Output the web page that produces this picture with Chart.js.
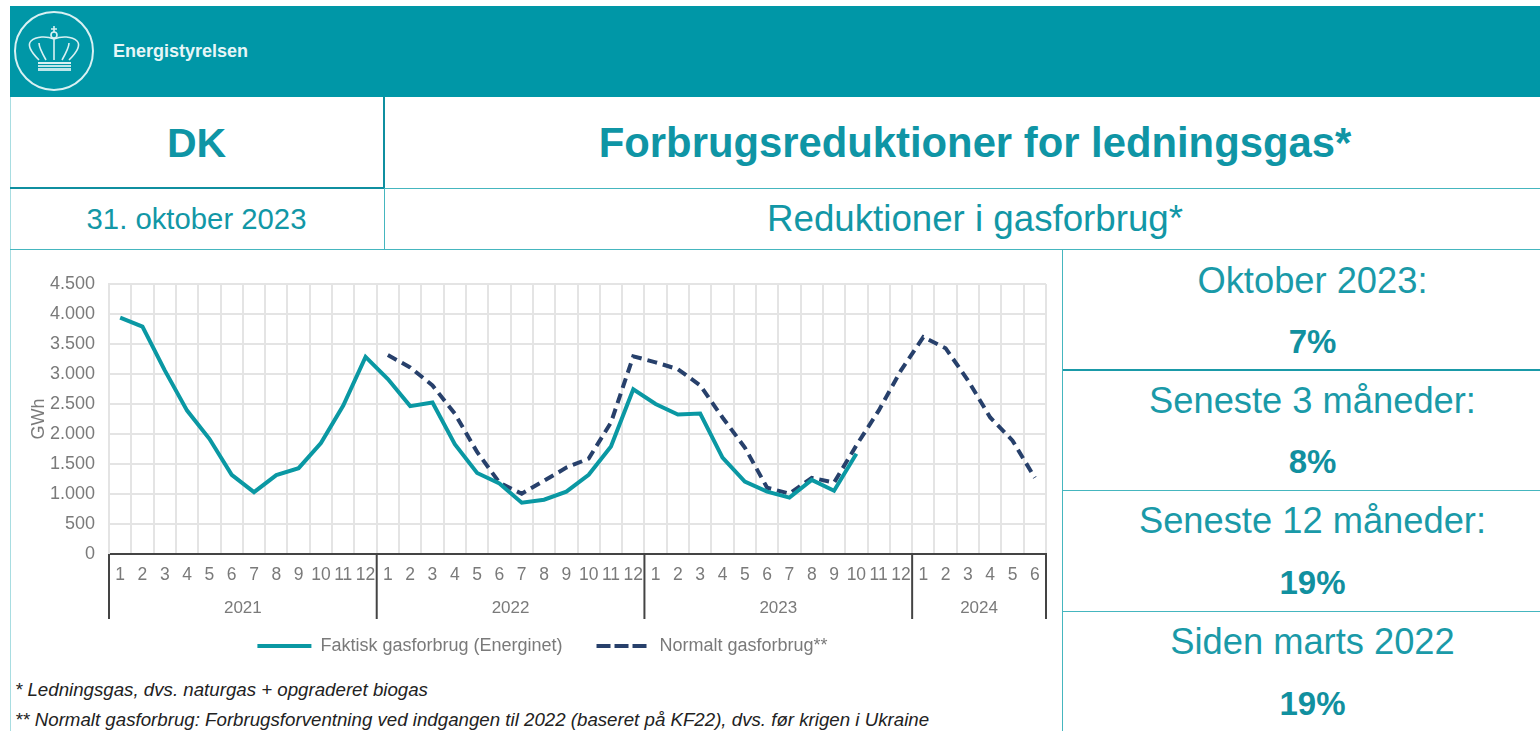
<!DOCTYPE html>
<html lang="da">
<head>
<meta charset="utf-8">
<title>Forbrugsreduktioner for ledningsgas</title>
<script src="https://cdn.jsdelivr.net/npm/chart.js@4"></script>
<style>
    html, body { margin: 0; padding: 0; background: #fff; overflow: hidden; }
    body { width: 1540px; height: 731px; position: relative; font-family: "Liberation Sans", Arial, sans-serif; color: #1297a6; }
    .abs { position: absolute; }
    .center { display: flex; align-items: center; justify-content: center; white-space: nowrap; }
    .band { left: 10px; top: 6px; width: 1530px; height: 91px; background: #0097a7; }
    .line { position: absolute; background: #45b6bf; }
    .stat { left: 1085px; width: 455px; height: 40px; font-size: 36.3px; color: #1a9aa8; }
    .pct { font-size: 33px; font-weight: bold; color: #11909f; }
    .note { left: 15px; font-size: 18.7px; font-style: italic; color: #222; white-space: nowrap; }
    #chartBox { position: absolute; left: 11px; top: 250px; width: 1051px; height: 425px; }
</style>
</head>
<body>

<div class="abs band"></div>
<svg class="abs" style="left:10px;top:6px" width="100" height="91" viewBox="0 0 100 91" fill="none" stroke="#d9f1f3" stroke-width="1.6">
    <circle cx="44" cy="45" r="39" stroke-width="2"/>
    <path d="M44 20v6M41 23h6"/>
    <circle cx="44" cy="29" r="3"/>
    <path d="M44 32v22M29 54C21 46 17 39 21 35C26 30 37 30 44 33C51 30 62 30 67 35C71 39 67 46 59 54"/>
    <path d="M36 54C32 47 29 41 29 37M52 54C56 47 59 41 59 37"/>
    <rect x="28" y="56" width="33" height="2" fill="#d9f1f3" stroke="none"/>
    <rect x="28" y="59" width="33" height="2" fill="#bfe6ea" stroke="none"/>
    <rect x="28" y="62" width="33" height="3" fill="#bfe6ea" stroke="none"/>
</svg>
<div class="abs" style="left:113px;top:41px;font-size:18px;font-weight:bold;color:#e6f6f7">Energistyrelsen</div>

<div class="abs center" style="left:10px;top:98px;width:373px;height:90px;font-size:41px;font-weight:bold;color:#0f95a5">DK</div>
<div class="abs center" style="left:410px;top:98px;width:1130px;height:90px;font-size:41.8px;font-weight:bold;color:#0f95a5">Forbrugsreduktioner for ledningsgas*</div>
<div class="abs center" style="left:10px;top:189px;width:373px;height:60px;font-size:29.3px">31. oktober 2023</div>
<div class="abs center" style="left:410px;top:189px;width:1130px;height:60px;font-size:36.7px">Reduktioner i gasforbrug*</div>

<div class="line" style="left:10px;top:97px;width:1px;height:634px;background:#a8dde1"></div>
<div class="line" style="left:383px;top:97px;width:2px;height:91px;background:#0f8fa0"></div>
<div class="line" style="left:384px;top:188px;width:1px;height:61px"></div>
<div class="line" style="left:10px;top:187px;width:374px;height:2px;background:#0f8fa0"></div>
<div class="line" style="left:384px;top:188px;width:1156px;height:1px"></div>
<div class="line" style="left:10px;top:249px;width:1530px;height:1px"></div>
<div class="line" style="left:1062px;top:249px;width:1px;height:482px"></div>
<div class="line" style="left:1063px;top:369px;width:477px;height:2px;background:#1a9aa8"></div>
<div class="line" style="left:1063px;top:490px;width:477px;height:1px"></div>
<div class="line" style="left:1063px;top:611px;width:477px;height:1px"></div>

<div class="abs center stat" style="top:261px">Oktober 2023:</div>
<div class="abs center stat pct" style="top:322px">7%</div>
<div class="abs center stat" style="top:381px">Seneste 3 måneder:</div>
<div class="abs center stat pct" style="top:442px">8%</div>
<div class="abs center stat" style="top:501px">Seneste 12 måneder:</div>
<div class="abs center stat pct" style="top:563px">19%</div>
<div class="abs center stat" style="top:622px">Siden marts 2022</div>
<div class="abs center stat pct" style="top:684px">19%</div>

<div class="abs note" style="top:679px">* Ledningsgas, dvs. naturgas + opgraderet biogas</div>
<div class="abs note" style="top:709px">** Normalt gasforbrug: Forbrugsforventning ved indgangen til 2022 (baseret på KF22), dvs. før krigen i Ukraine</div>

<div id="chartBox"><canvas id="gasChart"></canvas></div>

<script>
// Months on the axis, Jan 2021 - Jun 2024
const months = [
    1, 2, 3, 4, 5, 6, 7, 8, 9, 10, 11, 12,
    1, 2, 3, 4, 5, 6, 7, 8, 9, 10, 11, 12,
    1, 2, 3, 4, 5, 6, 7, 8, 9, 10, 11, 12,
    1, 2, 3, 4, 5, 6
];
const years = ['2021', '2022', '2023', '2024'];
const monthsPerYear = [12, 12, 12, 6];

const actual = [
    3940, 3790, 3060, 2390, 1920, 1320, 1030, 1315, 1430, 1850, 2475, 3285,
    2915, 2465, 2525, 1830, 1350, 1175, 855, 905, 1040, 1320, 1790, 2745,
    2500, 2325, 2340, 1605, 1205, 1040, 940, 1235, 1055, 1670,
    null, null, null, null, null, null, null, null
];
const normal = [
    null, null, null, null, null, null, null, null, null, null, null, null,
    3315, 3110, 2810, 2340, 1700, 1190, 1005, 1220, 1440, 1590, 2190, 3295,
    3195, 3080, 2810, 2275, 1775, 1105, 1005, 1270, 1190, 1810, 2390, 3060,
    3615, 3430, 2895, 2275, 1890, 1270
];

const yTicks = [0, 500, 1000, 1500, 2000, 2500, 3000, 3500, 4000, 4500];

const grey = '#7a7a7a';
const fontFamily = '"Liberation Sans", Arial, sans-serif';

// Year row under the month labels, with the dividers between years
const yearAxis = {
    id: 'yearAxis',
    afterLayout(chart) {
        chart.legend.left += 14;
        chart.legend.right += 14;
    },
    afterDraw(chart) {
        const { ctx, scales: { x } } = chart;
        const step = x.getPixelForValue(1) - x.getPixelForValue(0);
        const bottom = x.top + 65;
        let start = 0;
        ctx.save();
        ctx.strokeStyle = '#444';
        ctx.lineWidth = 2;
        ctx.fillStyle = grey;
        ctx.font = '17px ' + fontFamily;
        ctx.textAlign = 'center';
        ctx.textBaseline = 'middle';
        const divider = px => {
            ctx.beginPath();
            ctx.moveTo(px, x.top);
            ctx.lineTo(px, bottom);
            ctx.stroke();
        };
        divider(x.getPixelForValue(0) - step / 2);
        years.forEach((year, i) => {
            const end = start + monthsPerYear[i];
            const left = x.getPixelForValue(start) - step / 2;
            const right = x.getPixelForValue(end - 1) + step / 2;
            divider(right);
            ctx.fillText(year, (left + right) / 2, x.top + 54);
            start = end;
        });
        ctx.restore();
    }
};

new Chart(document.getElementById('gasChart'), {
    type: 'line',
    data: {
        labels: months,
        datasets: [
            {
                label: 'Faktisk gasforbrug (Energinet)',
                data: actual,
                borderColor: '#0a98a3',
                backgroundColor: '#0a98a3',
                borderWidth: 4,
                pointRadius: 0,
                tension: 0
            },
            {
                label: 'Normalt gasforbrug**',
                data: normal,
                borderColor: '#27406b',
                backgroundColor: '#27406b',
                borderWidth: 4,
                borderDash: [10, 6],
                pointRadius: 0,
                tension: 0
            }
        ]
    },
    options: {
        responsive: true,
        maintainAspectRatio: false,
        animation: false,
        layout: { padding: { top: 34, right: 16, bottom: 10 } },
        plugins: {
            tooltip: { enabled: false },
            legend: {
                position: 'bottom',
                labels: {
                    usePointStyle: true,
                    pointStyle: 'line',
                    pointStyleWidth: 54,
                    padding: 34,
                    color: grey,
                    font: { family: fontFamily, size: 18 },
                    generateLabels(chart) {
                        const items = Chart.defaults.plugins.legend.labels.generateLabels(chart);
                        items.forEach((item, i) => {
                            item.lineWidth = 4;
                            item.lineDash = chart.data.datasets[i].borderDash ? [14, 4] : [];
                        });
                        return items;
                    }
                }
            }
        },
        scales: {
            x: {
                offset: true,
                afterFit(axis) { axis.height = 49; },
                grid: { offset: true, color: '#e4e4e4', lineWidth: 2, drawTicks: false },
                border: { color: '#444', width: 2 },
                ticks: {
                    autoSkip: false,
                    maxRotation: 0,
                    padding: 11,
                    color: grey,
                    font: { family: fontFamily, size: 17.5 }
                }
            },
            y: {
                min: 0,
                max: 4500,
                afterFit(axis) { axis.width = 98; },
                afterBuildTicks(axis) { axis.ticks = yTicks.map(value => ({ value })); },
                grid: { color: '#e4e4e4', lineWidth: 2, drawTicks: false },
                border: { color: '#e4e4e4', width: 2 },
                title: {
                    display: true,
                    text: 'GWh',
                    color: grey,
                    padding: { top: 17, bottom: 0 },
                    font: { family: fontFamily, size: 18 }
                },
                ticks: {
                    padding: 14,
                    color: grey,
                    font: { family: fontFamily, size: 18 },
                    callback: value => value.toLocaleString('da-DK')
                }
            }
        }
    },
    plugins: [yearAxis]
});
</script>
</body>
</html>
